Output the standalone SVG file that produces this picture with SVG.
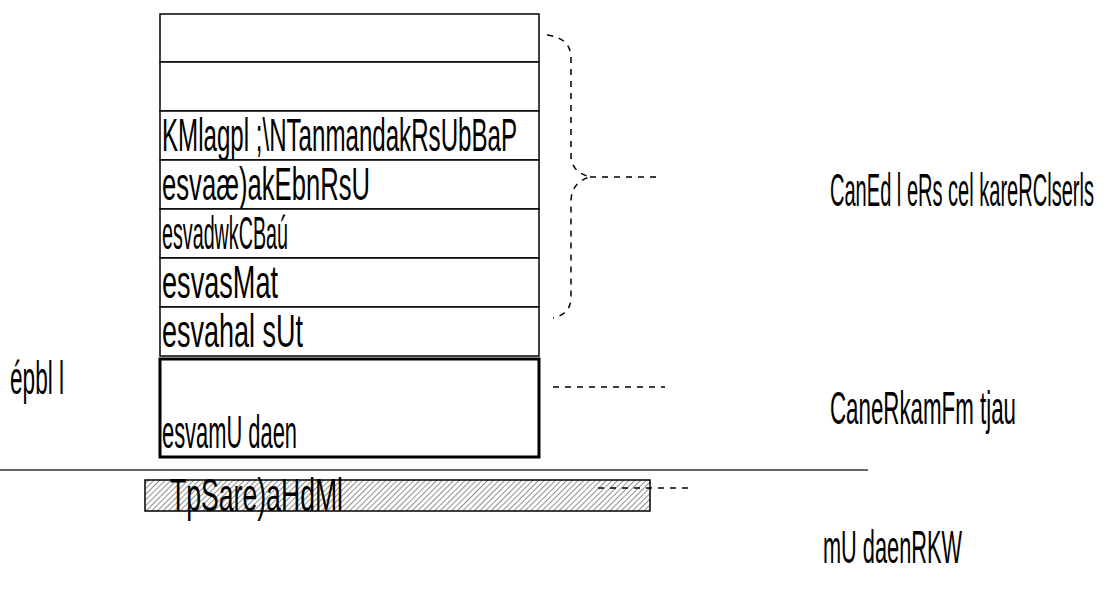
<svg xmlns="http://www.w3.org/2000/svg" width="1107" height="589" viewBox="0 0 1107 589">
<defs>
<pattern id="hatch" patternUnits="userSpaceOnUse" width="4" height="4" patternTransform="rotate(45)">
<rect width="4" height="4" fill="#ffffff"/>
<line x1="0" y1="0" x2="0" y2="4" stroke="#555555" stroke-width="1.3"/>
</pattern>
</defs>
<style>
.t{font-family:"Liberation Sans Narrow","Liberation Sans",Arial,sans-serif;font-size:47px;fill:#000000}
.cell{fill:#ffffff;stroke:#000000;stroke-width:1.5}
.dash{fill:none;stroke:#000000;stroke-width:1.5;stroke-dasharray:6,6}
</style>
<rect width="1107" height="589" fill="#ffffff"/>
<g id="row1"><rect class="cell" x="160" y="14" width="379" height="48"/></g>
<g id="row2"><rect class="cell" x="160" y="62" width="379" height="49"/></g>
<g id="row3"><rect class="cell" x="160" y="111" width="379" height="49"/>
<text class="t" x="162" y="151" textLength="355" lengthAdjust="spacingAndGlyphs">KMlagpl ;\NTanmandakRsUbBaP</text></g>
<g id="row4"><rect class="cell" x="160" y="160" width="379" height="49"/>
<text class="t" x="162" y="200" textLength="208" lengthAdjust="spacingAndGlyphs">esvaæ)akEbnRsU</text></g>
<g id="row5"><rect class="cell" x="160" y="209" width="379" height="49"/>
<text class="t" x="162" y="249" textLength="126" lengthAdjust="spacingAndGlyphs">esvadwkCBaú</text></g>
<g id="row6"><rect class="cell" x="160" y="258" width="379" height="49"/>
<text class="t" x="162" y="298" textLength="116" lengthAdjust="spacingAndGlyphs">esvasMat</text></g>
<g id="row7"><rect class="cell" x="160" y="307" width="379" height="49"/>
<text class="t" x="162" y="347" textLength="141" lengthAdjust="spacingAndGlyphs">esvahal sUt</text></g>
<g id="row8"><rect x="160" y="359" width="379" height="98" fill="#ffffff" stroke="#000000" stroke-width="3"/>
<text class="t" x="162" y="448" textLength="135" lengthAdjust="spacingAndGlyphs">esvamU daen</text></g>
<g id="left-label"><text class="t" x="10" y="394" textLength="54" lengthAdjust="spacingAndGlyphs">épbl l</text></g>
<g id="baseline"><line x1="0" y1="470" x2="868" y2="470" stroke="#333333" stroke-width="1.5"/></g>
<g id="hatched-bar"><rect x="145" y="480" width="505" height="31" fill="url(#hatch)" stroke="#000000" stroke-width="1.5"/>
<text class="t" x="170" y="511" textLength="173" lengthAdjust="spacingAndGlyphs">TpSare)aHdMl</text></g>
<g id="label-top"><text class="t" x="830" y="206" textLength="264" lengthAdjust="spacingAndGlyphs">CanEd l eRs cel kareRClserls</text></g>
<g id="label-mid"><text class="t" x="830" y="424" textLength="186" lengthAdjust="spacingAndGlyphs">CaneRkamFm tjau</text></g>
<g id="label-bottom"><text class="t" x="823" y="563" textLength="139" lengthAdjust="spacingAndGlyphs">mU daenRKW</text></g>
<g id="connectors">
<path class="dash" d="M547,35 Q571,38 571,58 L571,157 Q572,172 590,177 Q572,182 571,200 L571,297 Q571,314 553,318"/>
<line class="dash" x1="590" y1="177" x2="660" y2="177"/>
<line class="dash" x1="553" y1="387" x2="665" y2="387"/>
<line class="dash" x1="598" y1="488" x2="692" y2="488"/>
</g>
</svg>
